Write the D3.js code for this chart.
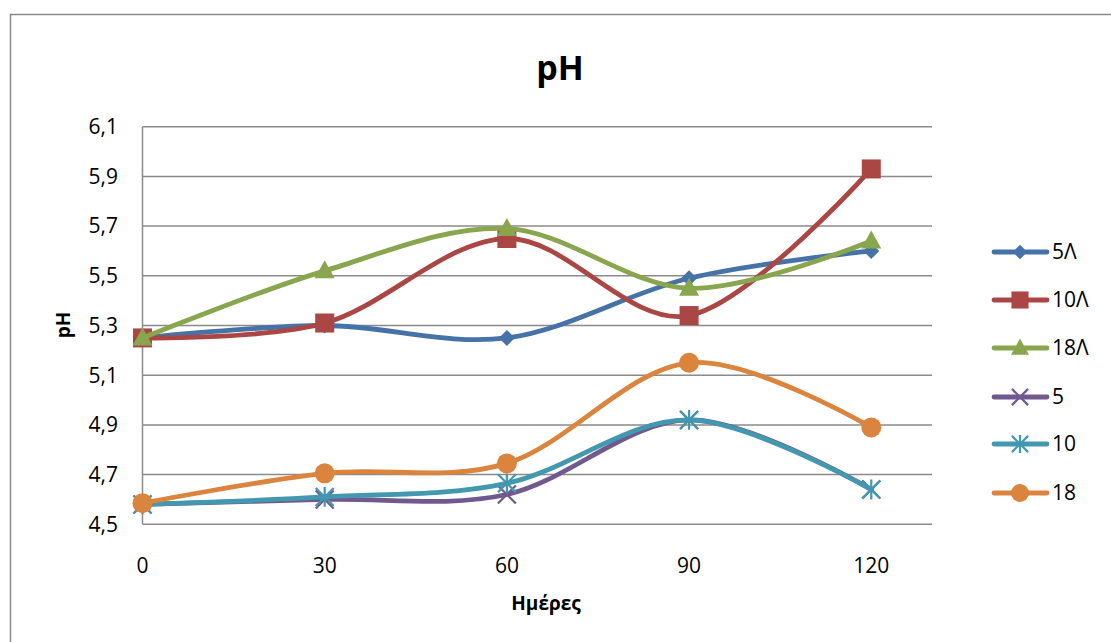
<!DOCTYPE html>
<html><head><meta charset="utf-8">
<script src="https://cdn.jsdelivr.net/npm/d3@7"></script>
<style>body{margin:0;background:#fff;}svg{display:block;font-family:"Open Sans",sans-serif;}</style>
</head><body>
<svg id="c" width="1111" height="642"></svg>
<script>
const days = [0, 30, 60, 90, 120];
const seriesNames = ["5Λ", "10Λ", "18Λ", "5", "10", "18"];
const s5L  = [5.25, 5.30, 5.25, 5.49, 5.60];
const s10L = [5.25, 5.31, 5.65, 5.34, 5.93];
const s18L = [5.25, 5.52, 5.69, 5.45, 5.64];
const s5   = [4.58, 4.60, 4.62, 4.92, 4.64];
const s10  = [4.58, 4.61, 4.665, 4.92, 4.64];
const s18  = [4.585, 4.705, 4.745, 5.15, 4.89];
const yTicks = [4.5, 4.7, 4.9, 5.1, 5.3, 5.5, 5.7, 5.9, 6.1];
const xTicks = [0, 30, 60, 90, 120];
const colors = ["#4572A7", "#AA4643", "#89A54E", "#71588F", "#4198AF", "#DB843D"];
const markers = ["diamond", "square", "triangle", "x", "star", "circle"];
const allValues = [s5L, s10L, s18L, s5, s10, s18];

const svg = d3.select("#c");
// outer border
svg.append("path").attr("d", "M10.5,700 L10.5,14.5 L1200,14.5")
  .attr("fill", "none").attr("stroke", "#898989").attr("stroke-width", 1.5);

const x = d3.scaleLinear().domain([0, 130]).range([142.5, 932]);
const y = d3.scaleLinear().domain([4.5, 6.1]).range([524.3, 126.7]);

// gridlines
svg.append("g").selectAll("line").data(yTicks).join("line")
  .attr("x1", x(0)).attr("x2", x(130))
  .attr("y1", d => y(d)).attr("y2", d => y(d))
  .attr("stroke", "#8a8a8a").attr("stroke-width", 1.5);
// y axis line
svg.append("line").attr("x1", x(0)).attr("x2", x(0)).attr("y1", y(6.1)).attr("y2", y(4.5))
  .attr("stroke", "#8a8a8a").attr("stroke-width", 1.5);

// y tick labels
const fmt = d => d3.format(".1f")(d).replace(".", ",");
svg.append("g").selectAll("text").data(yTicks).join("text")
  .attr("x", 118).attr("y", d => y(d)).attr("dy", "0.35em")
  .attr("text-anchor", "end").attr("font-size", 21).attr("fill", "#000").text(fmt);
// x tick labels
svg.append("g").selectAll("text").data(xTicks).join("text")
  .attr("x", d => x(d)).attr("y", 566).attr("dy", "0.35em")
  .attr("text-anchor", "middle").attr("font-size", 21).attr("fill", "#000").text(d => d);

// titles
svg.append("text").attr("x", 560).attr("y", 80).attr("text-anchor", "middle")
  .attr("font-size", 34).attr("font-weight", "bold").text("pH");
svg.append("text").attr("transform", "translate(70,325) rotate(-90)").attr("text-anchor", "middle")
  .attr("font-size", 19).attr("font-weight", "bold").text("pH");
svg.append("text").attr("x", 546).attr("y", 610).attr("text-anchor", "middle")
  .attr("font-size", 19).attr("font-weight", "bold").text("Ημέρες");

function drawMarker(g, type, cx, cy, color, s) {
  const k = s || 1;
  if (type === "diamond") {
    const r = 8 * k;
    g.append("path").attr("d", `M${cx},${cy - r}L${cx + r},${cy}L${cx},${cy + r}L${cx - r},${cy}Z`).attr("fill", color);
  } else if (type === "square") {
    const r = 9.5 * k;
    g.append("rect").attr("x", cx - r).attr("y", cy - r).attr("width", 2 * r).attr("height", 2 * r).attr("fill", color);
  } else if (type === "triangle") {
    const r = 10 * k;
    g.append("path").attr("d", `M${cx},${cy - r * 1.05}L${cx + r},${cy + r * 0.75}L${cx - r},${cy + r * 0.75}Z`).attr("fill", color);
  } else if (type === "x") {
    const r = 9 * k;
    g.append("path").attr("d", `M${cx - r},${cy - r}L${cx + r},${cy + r}M${cx - r},${cy + r}L${cx + r},${cy - r}`)
      .attr("stroke", color).attr("stroke-width", 2.2).attr("fill", "none");
  } else if (type === "star") {
    const r = 9 * k;
    g.append("path").attr("d", `M${cx - r},${cy - r}L${cx + r},${cy + r}M${cx - r},${cy + r}L${cx + r},${cy - r}M${cx},${cy - r * 1.1}L${cx},${cy + r * 1.1}`)
      .attr("stroke", color).attr("stroke-width", 2.2).attr("fill", "none");
  } else if (type === "circle") {
    g.append("circle").attr("cx", cx).attr("cy", cy).attr("r", 10 * k).attr("fill", color);
  }
}

const line = d3.line().x(d => x(d[0])).y(d => y(d[1])).curve(d3.curveCardinal.tension(0));
const plot = svg.append("g");
allValues.forEach((vals, i) => {
  const pts = days.map((d, j) => [d, vals[j]]);
  const g = plot.append("g");
  g.append("path").attr("d", line(pts)).attr("fill", "none")
    .attr("stroke", colors[i]).attr("stroke-width", 4.8).attr("stroke-linecap", "round").attr("stroke-linejoin", "round");
  pts.forEach(p => drawMarker(g, markers[i], x(p[0]), y(p[1]), colors[i], 1));
});

// legend
const legY = [252, 300, 348, 397, 444, 493];
const leg = svg.append("g");
seriesNames.forEach((name, i) => {
  const g = leg.append("g");
  g.append("line").attr("x1", 994).attr("x2", 1047).attr("y1", legY[i]).attr("y2", legY[i])
    .attr("stroke", colors[i]).attr("stroke-width", 4.8).attr("stroke-linecap", "round");
  drawMarker(g, markers[i], 1020, legY[i], colors[i], 0.9);
  g.append("text").attr("x", 1052).attr("y", legY[i]).attr("dy", "0.35em")
    .attr("font-size", 21).attr("fill", "#000").text(name);
});
</script>
</body></html>
